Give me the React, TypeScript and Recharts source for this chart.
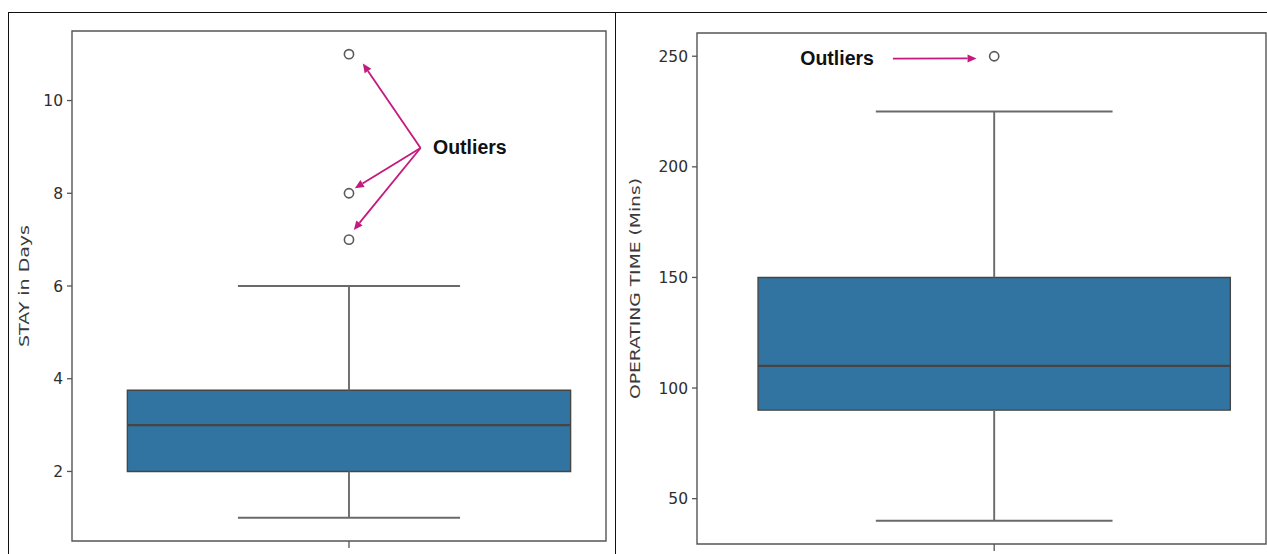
import React from 'react';
import {
  ComposedChart,
  XAxis,
  YAxis,
  Scatter,
  ReferenceArea,
  ReferenceLine,
  ReferenceDot,
} from 'recharts';

// Five-number summaries: [lower whisker, Q1, median, Q3, upper whisker]
const stayBox = [1, 2, 3, 3.75, 6];
const stayOutliers = [7, 8, 11];
const stayTicks = [2, 4, 6, 8, 10];

const opTimeBox = [40, 90, 110, 150, 225];
const opTimeOutliers = [250];
const opTimeTicks = [50, 100, 150, 200, 250];

// Annotation arrows in data coordinates: tail point and arrow tips
const stayArrowTail = [0.134, 8.976];
const stayArrowTips = [
  [0.026, 10.8],
  [0.011, 8.11],
  [0.009, 7.21],
];
const opArrowTail = [-0.178, 248.9];
const opArrowTips = [[-0.031, 249.0]];

const BOX_FILL = '#3274a1';
const LINE = '#454545';
const WHISKER = '#6a6a6a';
const SPINE = '#555555';
const ARROW = '#c4197e';
const TICK_FONT = '"DejaVu Sans", sans-serif';

const ArrowShape = (props: any) => {
  const { x1, y1, x2, y2 } = props;
  const dx = x2 - x1;
  const dy = y2 - y1;
  const len = Math.hypot(dx, dy) || 1;
  const ux = dx / len;
  const uy = dy / len;
  const headL = 9;
  const headW = 4;
  const bx = x2 - ux * headL;
  const by = y2 - uy * headL;
  const px = -uy;
  const py = ux;
  return (
    <g>
      <line x1={x1} y1={y1} x2={bx} y2={by} stroke={ARROW} strokeWidth={1.8} />
      <polygon
        points={`${x2},${y2} ${bx + px * headW},${by + py * headW} ${bx - px * headW},${by - py * headW}`}
        fill={ARROW}
      />
    </g>
  );
};

const YTick = (props: any) => {
  const { x, y, payload } = props;
  return (
    <text x={x} y={y} dy={5.5} textAnchor="end" fontFamily={TICK_FONT} fontSize={15.5} fill="#2e2e2e">
      {payload.value}
    </text>
  );
};

const EmptyTick = () => <g />;

type PanelProps = {
  left: number;
  width: number;
  height: number;
  top: number;
  right: number;
  yAxisWidth: number;
  xAxisHeight: number;
  xDomain: [number, number];
  yDomain: [number, number];
  ticks: number[];
  box: number[];
  outliers: number[];
  label: string;
  labelX: number;
  labelLength: number;
  arrowTail: number[];
  arrowTips: number[][];
  textDx: number;
  textDy: number;
  textAnchor: 'start' | 'end';
};

const BOX_HALF = 0.415;
const CAP_HALF = 0.208;

function BoxPanel(p: PanelProps) {
  const [lo, q1, med, q3, hi] = p.box;
  const points = p.outliers.map((v) => ({ x: 0, y: v }));
  return (
    <div style={{ position: 'absolute', left: p.left, top: 0 }}>
      <ComposedChart
        width={p.width}
        height={p.height}
        margin={{ top: p.top, right: p.right, bottom: 0, left: 0 }}
      >
        <XAxis
          type="number"
          dataKey="x"
          domain={p.xDomain}
          allowDataOverflow
          ticks={[0]}
          tick={EmptyTick}
          tickSize={7}
          tickLine={{ stroke: SPINE, strokeWidth: 1.3 }}
          axisLine={false}
          height={p.xAxisHeight}
        />
        <YAxis
          type="number"
          dataKey="y"
          domain={p.yDomain}
          allowDataOverflow
          ticks={p.ticks}
          tick={YTick}
          tickSize={5}
          tickMargin={4}
          tickLine={{ stroke: SPINE, strokeWidth: 1.3 }}
          axisLine={false}
          width={p.yAxisWidth}
          label={{
            content: (lp: any) => {
              const vb = lp.viewBox || { y: p.top, height: p.height - p.top - p.xAxisHeight };
              const cy = vb.y + vb.height / 2;
              return (
                <text
                  x={p.labelX}
                  y={cy}
                  transform={`rotate(-90 ${p.labelX} ${cy})`}
                  textAnchor="middle"
                  fontFamily={TICK_FONT}
                  fontSize={14.5}
                  fill="#3a3a3a"
                  textLength={p.labelLength}
                  lengthAdjust="spacingAndGlyphs"
                >
                  {p.label}
                </text>
              );
            },
          }}
        />
        {/* plot frame */}
        <ReferenceArea
          x1={p.xDomain[0]}
          x2={p.xDomain[1]}
          y1={p.yDomain[0]}
          y2={p.yDomain[1]}
          fill="none"
          fillOpacity={0}
          stroke={SPINE}
          strokeWidth={1.4}
        />
        {/* box */}
        <ReferenceArea
          x1={-BOX_HALF}
          x2={BOX_HALF}
          y1={q1}
          y2={q3}
          fill={BOX_FILL}
          fillOpacity={1}
          stroke={LINE}
          strokeWidth={1.4}
        />
        <ReferenceLine
          segment={[{ x: -BOX_HALF, y: med }, { x: BOX_HALF, y: med }]}
          stroke={LINE}
          strokeWidth={2.2}
        />
        {/* whiskers and caps */}
        <ReferenceLine segment={[{ x: 0, y: q3 }, { x: 0, y: hi }]} stroke={WHISKER} strokeWidth={1.9} />
        <ReferenceLine segment={[{ x: 0, y: q1 }, { x: 0, y: lo }]} stroke={WHISKER} strokeWidth={1.9} />
        <ReferenceLine
          segment={[{ x: -CAP_HALF, y: hi }, { x: CAP_HALF, y: hi }]}
          stroke={WHISKER}
          strokeWidth={1.9}
        />
        <ReferenceLine
          segment={[{ x: -CAP_HALF, y: lo }, { x: CAP_HALF, y: lo }]}
          stroke={WHISKER}
          strokeWidth={1.9}
        />
        <Scatter
          data={points}
          dataKey="y"
          isAnimationActive={false}
          shape={(sp: any) => (
            <circle cx={sp.cx} cy={sp.cy} r={4.6} fill="#fff" stroke="#5a5a5a" strokeWidth={1.6} />
          )}
        />
        {/* annotation arrows */}
        {p.arrowTips.map((tip, i) => (
          <ReferenceLine
            key={i}
            segment={[
              { x: p.arrowTail[0], y: p.arrowTail[1] },
              { x: tip[0], y: tip[1] },
            ]}
            shape={ArrowShape}
          />
        ))}
        <ReferenceDot
          x={p.arrowTail[0]}
          y={p.arrowTail[1]}
          r={0}
          fill="none"
          stroke="none"
          label={{
            content: (lp: any) => {
              const vb = lp.viewBox || { x: 0, y: 0 };
              return (
                <text
                  x={vb.x + p.textDx}
                  y={vb.y + p.textDy}
                  textAnchor={p.textAnchor}
                  fontFamily='"Liberation Sans", Arial, sans-serif'
                  fontWeight="bold"
                  fontSize={19.5}
                  fill="#111"
                >
                  Outliers
                </text>
              );
            },
          }}
        />
      </ComposedChart>
    </div>
  );
}

export default function App() {
  return (
    <div
      style={{
        position: 'absolute',
        left: 0,
        top: 0,
        width: 1267,
        height: 554,
        overflow: 'hidden',
        background: '#fff',
      }}
    >
      <div
        style={{
          position: 'absolute',
          left: 7.5,
          top: 11.5,
          width: 1300,
          height: 600,
          borderLeft: '1.5px solid #111',
          borderTop: '1.5px solid #111',
        }}
      />
      <div
        style={{ position: 'absolute', left: 614.5, top: 12, width: 1.5, height: 600, background: '#111' }}
      />
      <BoxPanel
        left={0}
        width={620}
        height={554}
        top={31}
        right={14}
        yAxisWidth={72}
        xAxisHeight={13}
        xDomain={[-0.5187, 0.4813]}
        yDomain={[0.5, 11.5]}
        ticks={stayTicks}
        box={stayBox}
        outliers={stayOutliers}
        label="STAY in Days"
        labelX={28.5}
        labelLength={122}
        arrowTail={stayArrowTail}
        arrowTips={stayArrowTips}
        textDx={12.5}
        textDy={5.5}
        textAnchor="start"
      />
      <BoxPanel
        left={620}
        width={647}
        height={554}
        top={33}
        right={1}
        yAxisWidth={77}
        xAxisHeight={10}
        xDomain={[-0.5223, 0.4777]}
        yDomain={[29.5, 260.5]}
        ticks={opTimeTicks}
        box={opTimeBox}
        outliers={opTimeOutliers}
        label="OPERATING TIME (Mins)"
        labelX={20}
        labelLength={221}
        arrowTail={opArrowTail}
        arrowTips={opArrowTips}
        textDx={-19}
        textDy={6.5}
        textAnchor="end"
      />
    </div>
  );
}
